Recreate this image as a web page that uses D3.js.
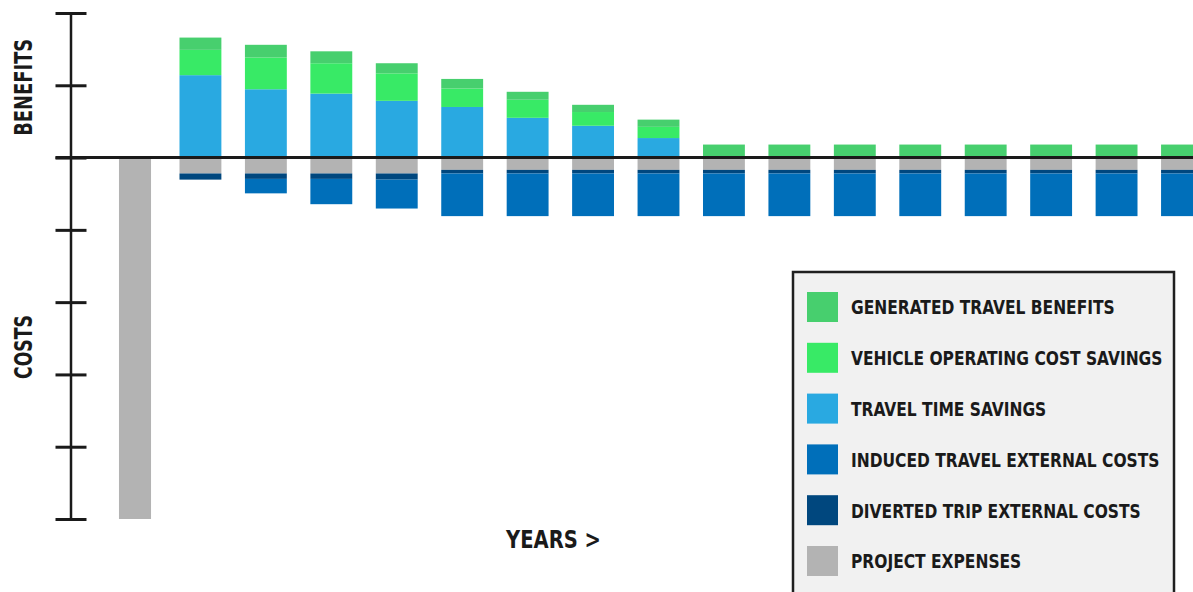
<!DOCTYPE html>
<html><head><meta charset="utf-8">
<script src="https://cdn.jsdelivr.net/npm/d3@7"></script>
<style>html,body{margin:0;padding:0;background:#fff;overflow:hidden}
text{font-family:"Liberation Sans Narrow","DejaVu Sans Condensed","Liberation Sans",sans-serif;font-weight:700;fill:#1a1a1a}</style>
</head><body><svg id="chart" width="1193" height="592"></svg>
<script>
// ---- data (arbitrary units, 1 unit = 1 tick) ----
const years = [0,1,2,3,4,5,6,7,8,9,10,11,12,13,14,15,16];
const travelTime      = [0, 1.14, 0.945, 0.885, 0.785, 0.70, 0.55, 0.44, 0.27, 0, 0, 0, 0, 0, 0, 0, 0];
const vehicleOp       = [0, 0.35, 0.44, 0.42, 0.38, 0.255, 0.25, 0.19, 0.155, 0, 0, 0, 0, 0, 0, 0, 0];
const generated       = [0, 0.17, 0.175, 0.165, 0.14, 0.133, 0.11, 0.10, 0.10, 0.18, 0.18, 0.18, 0.18, 0.18, 0.18, 0.18, 0.18];
const projectExpenses = [-5.0, -0.22, -0.22, -0.22, -0.22, -0.17, -0.17, -0.17, -0.17, -0.17, -0.17, -0.17, -0.17, -0.17, -0.17, -0.17, -0.17];
const diverted        = [0, -0.085, -0.075, -0.075, -0.085, -0.05, -0.05, -0.05, -0.05, -0.05, -0.05, -0.05, -0.05, -0.05, -0.05, -0.05, -0.05];
const induced         = [0, 0, -0.20, -0.35, -0.40, -0.59, -0.59, -0.59, -0.59, -0.59, -0.59, -0.59, -0.59, -0.59, -0.59, -0.59, -0.59];
const tickValues = [-5, -4, -3, -2, -1, 0, 1, 2];
const seriesKeys = ["travelTime", "vehicleOp", "generated", "projectExpenses", "diverted", "induced"];
const seriesColors = ["#29a9e1", "#38ea66", "#47cf6e", "#b3b3b3", "#00477e", "#006fba"];
const legendLabels = ["GENERATED TRAVEL BENEFITS", "VEHICLE OPERATING COST SAVINGS", "TRAVEL TIME SAVINGS",
  "INDUCED TRAVEL EXTERNAL COSTS", "DIVERTED TRIP EXTERNAL COSTS", "PROJECT EXPENSES"];
const legendKeys = ["generated", "vehicleOp", "travelTime", "induced", "diverted", "projectExpenses"];

// ---- build ----
const svg = d3.select("#chart");
const x = d3.scalePoint().domain(years).range([135, 1182]);
const y = d3.scaleLinear().domain([-5, 2]).range([519, 13]);
const step = x.step();
const barWidth = yr => yr === 0 ? step * 0.49 : step * 0.64;

const rows = years.map((yr, i) => ({
  year: yr, travelTime: travelTime[i], vehicleOp: vehicleOp[i], generated: generated[i],
  projectExpenses: projectExpenses[i], diverted: diverted[i], induced: induced[i]
}));
const color = d3.scaleOrdinal().domain(seriesKeys).range(seriesColors);
const series = d3.stack().keys(seriesKeys).offset(d3.stackOffsetDiverging)(rows);

svg.append("g").selectAll("g").data(series).join("g")
  .attr("fill", d => color(d.key))
  .selectAll("rect").data(d => d.filter(p => p[1] !== p[0])).join("rect")
  .attr("x", d => x(d.data.year) - barWidth(d.data.year) / 2)
  .attr("width", d => barWidth(d.data.year))
  .attr("y", d => y(Math.max(d[0], d[1])))
  .attr("height", d => Math.abs(y(d[0]) - y(d[1])));

// axis
const axisX = 71, tickHalf = 15.5;
const ag = svg.append("g").attr("transform", `translate(${axisX},0)`)
  .call(d3.axisLeft(y).tickValues(tickValues).tickSize(tickHalf).tickFormat(() => ""));
ag.select(".domain").remove();
ag.selectAll(".tick line").attr("x1", -tickHalf).attr("x2", tickHalf)
  .attr("stroke", "#1a1a1a").attr("stroke-width", 3);
ag.append("line").attr("x1", 0).attr("x2", 0).attr("y1", y(2)).attr("y2", y(-5))
  .attr("stroke", "#1a1a1a").attr("stroke-width", 2.5);

// zero line
svg.append("line").attr("x1", axisX - tickHalf).attr("x2", 1193)
  .attr("y1", y(0)).attr("y2", y(0)).attr("stroke", "#1a1a1a").attr("stroke-width", 3);

// axis titles
svg.append("text").attr("transform", `translate(32,${(y(2) + y(0)) / 2 + 2}) rotate(-90)`)
  .attr("text-anchor", "middle").style("font-size", "24px")
  .attr("textLength", 97).attr("lengthAdjust", "spacingAndGlyphs").text("BENEFITS");
svg.append("text").attr("transform", `translate(32,347) rotate(-90)`)
  .attr("text-anchor", "middle").style("font-size", "24px")
  .attr("textLength", 64).attr("lengthAdjust", "spacingAndGlyphs").text("COSTS");
svg.append("text").attr("x", 506).attr("y", 548).style("font-size", "25px")
  .attr("textLength", 95).attr("lengthAdjust", "spacingAndGlyphs").text("YEARS >");

// legend
const lg = svg.append("g");
lg.append("rect").attr("x", 793).attr("y", 272).attr("width", 381).attr("height", 340)
  .attr("fill", "#f1f1f1").attr("stroke", "#1f1f1f").attr("stroke-width", 2.5);
const rowH = 50.8;
const items = lg.selectAll("g.item").data(legendLabels).join("g").attr("class", "item")
  .attr("transform", (d, i) => `translate(807,${292 + i * rowH})`);
items.append("rect").attr("width", 31).attr("height", 30).attr("fill", (d, i) => color(legendKeys[i]));
const texts = items.append("text").attr("x", 0).attr("y", 22.5).style("font-size", "19.5px").text(d => d);
const w0 = texts.nodes()[0].getComputedTextLength();
const k = 264 / w0;
texts.attr("transform", `translate(44,0) scale(${k},1)`);
</script></body></html>
